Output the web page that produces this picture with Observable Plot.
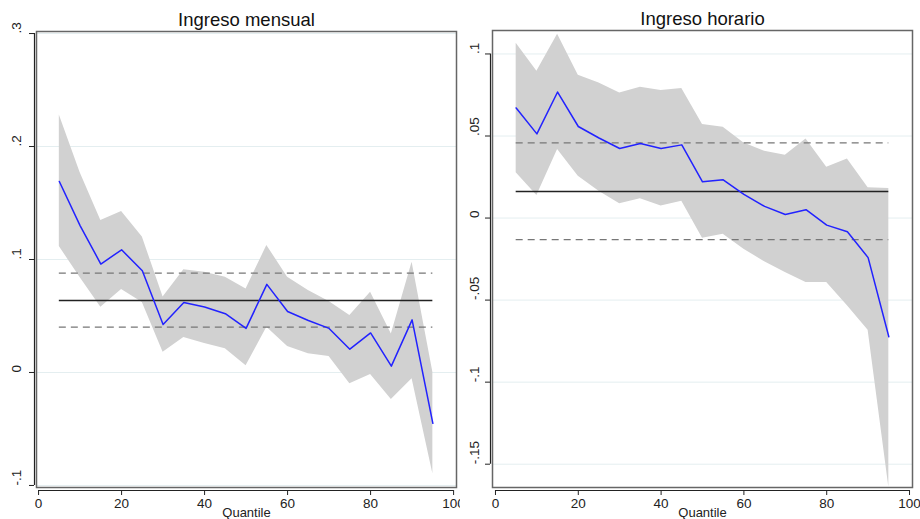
<!DOCTYPE html>
<html>
<head>
<meta charset="utf-8">
<script src="https://cdn.jsdelivr.net/npm/d3@7"></script>
<script src="https://cdn.jsdelivr.net/npm/@observablehq/plot@0.6"></script>
<style>
  html, body { margin: 0; padding: 0; background: white; }
  #wrap { display: flex; width: 920px; height: 519px; overflow: hidden; }
</style>
</head>
<body>
<div id="wrap"></div>
<script>
const quantiles = [5,10,15,20,25,30,35,40,45,50,55,60,65,70,75,80,85,90,95];

const mensualCoef  = [0.169,0.130,0.096,0.1086,0.090,0.0425,0.062,0.058,0.052,0.039,0.078,0.054,0.046,0.039,0.0206,0.035,0.0056,0.0466,-0.045];
const mensualUpper = [0.228,0.177,0.1345,0.1425,0.120,0.0667,0.091,0.0888,0.0844,0.074,0.1124,0.0844,0.0726,0.0628,0.0504,0.071,0.034,0.0976,0.0003];
const mensualLower = [0.1115,0.084,0.0578,0.0734,0.062,0.018,0.031,0.0257,0.021,0.006,0.040,0.023,0.0165,0.0142,-0.010,-0.0018,-0.024,-0.0056,-0.0897];
const mensualOLS = 0.0637, mensualOLSUpper = 0.0879, mensualOLSLower = 0.0401;

const horarioCoef  = [0.0671,0.0513,0.0768,0.0558,0.0488,0.0424,0.0454,0.0424,0.0446,0.0221,0.0233,0.0144,0.0071,0.0022,0.0051,-0.0043,-0.0083,-0.0241,-0.0723];
const horarioUpper = [0.1066,0.0894,0.112,0.087,0.0823,0.0762,0.0797,0.0778,0.0789,0.057,0.0553,0.0458,0.0407,0.0383,0.0482,0.031,0.036,0.0184,0.018];
const horarioLower = [0.0276,0.0138,0.0418,0.0255,0.0164,0.0087,0.0117,0.0073,0.0103,-0.0123,-0.0099,-0.019,-0.0266,-0.0332,-0.0393,-0.0393,-0.0535,-0.0683,-0.164];
const horarioOLS = 0.0162, horarioOLSUpper = 0.0458, horarioOLSLower = -0.0132;

const mensualTicks = [-0.1, 0, 0.1, 0.2, 0.3];
const horarioTicks = [-0.15, -0.1, -0.05, 0, 0.05, 0.1];
const xTicks = [0, 20, 40, 60, 80, 100];

const titles = ["Ingreso mensual", "Ingreso horario"];
const xLabel = "Quantile";

const fmt = d => d === 0 ? "0" : String(+d.toFixed(3)).replace("0.", ".");
const font = "Arial, 'Liberation Sans', sans-serif";

function panel(cfg) {
  const data = quantiles.map((q, i) => ({q, coef: cfg.coef[i], hi: cfg.upper[i], lo: cfg.lower[i]}));
  return Plot.plot({
    width: 460,
    height: 519,
    marginLeft: cfg.ml,
    marginRight: cfg.mr,
    marginTop: cfg.mt,
    marginBottom: 32,
    style: {fontFamily: font, fontSize: "13px", background: "white", color: "#222"},
    x: {domain: cfg.xdom, axis: null},
    y: {domain: cfg.ydom, axis: null},
    marks: [
      Plot.ruleY(cfg.ticks, {stroke: "#e4eef0", strokeWidth: 1}),
      Plot.areaY(data, {x: "q", y1: "lo", y2: "hi", fill: "#d1d1d1"}),
      Plot.ruleY([cfg.olsHi, cfg.olsLo], {x1: 5, x2: 95, stroke: "#777", strokeWidth: 1.3, strokeDasharray: "7,5"}),
      Plot.ruleY([cfg.ols], {x1: 5, x2: 95, stroke: "#222", strokeWidth: 1.4}),
      Plot.lineY(data, {x: "q", y: "coef", stroke: "#2222ff", strokeWidth: 1.5}),
      Plot.frame({stroke: "#666", strokeWidth: 1.5}),
      Plot.axisX(xTicks, {tickSize: 5, dy: 3, tickPadding: 3, fontSize: 13.5, tickFormat: d => String(d), label: null, stroke: "#222"}),
      Plot.ruleY([cfg.ydom[0]], {x1: 0, x2: 100, dy: 3, stroke: "#222", strokeWidth: 1.2}),
      Plot.axisY(cfg.ticks, {tickSize: 5, dx: -2, tickFormat: () => "", label: null, stroke: "#222"}),
      Plot.ruleX([cfg.xdom[0]], {y1: cfg.ticks[0], y2: cfg.ticks[cfg.ticks.length - 1], dx: -2, stroke: "#222", strokeWidth: 1.2}),
      Plot.text(cfg.ticks, {y: d => d, text: fmt, frameAnchor: "left", lineAnchor: "middle", dx: cfg.labDx, rotate: -90, fontSize: 13.5, fill: "#222"}),
      Plot.text([cfg.title], {frameAnchor: "top", lineAnchor: "middle", dy: -11, fontSize: 18.5, fill: "#111"}),
      Plot.text([xLabel], {frameAnchor: "bottom", lineAnchor: "middle", dy: 25.5, fontSize: 13, fill: "#222"})
    ]
  });
}

const wrap = document.getElementById("wrap");
wrap.append(panel({
  coef: mensualCoef, upper: mensualUpper, lower: mensualLower,
  ols: mensualOLS, olsHi: mensualOLSUpper, olsLo: mensualOLSLower,
  ticks: mensualTicks, title: titles[0],
  ml: 36, mr: 4, mt: 31, xdom: [-0.5, 100.7], ydom: [-0.1018, 0.3018], labDx: -20
}));
wrap.append(panel({
  coef: horarioCoef, upper: horarioUpper, lower: horarioLower,
  ols: horarioOLS, olsHi: horarioOLSUpper, olsLo: horarioOLSLower,
  ticks: horarioTicks, title: titles[1],
  ml: 32, mr: 8, mt: 30, xdom: [-0.72, 100.72], ydom: [-0.1642, 0.1143], labDx: -18
}));
</script>
</body>
</html>
